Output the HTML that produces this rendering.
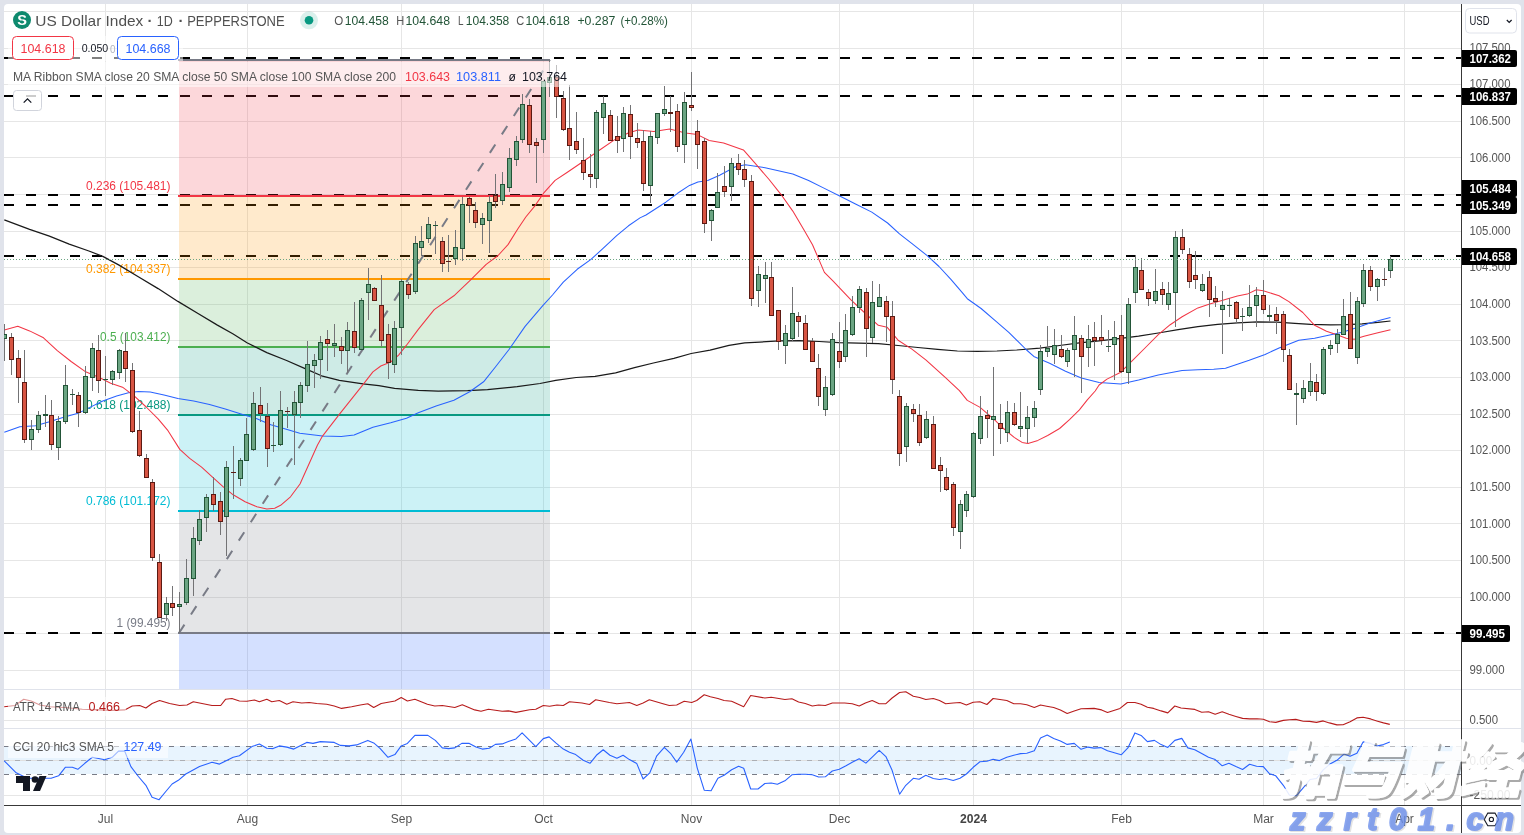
<!DOCTYPE html>
<html lang="en"><head><meta charset="utf-8"><title>US Dollar Index 1D</title>
<style>html,body{margin:0;padding:0;background:#e0e3eb;overflow:hidden}svg{display:block;font-family:"Liberation Sans", Arial, sans-serif}text{white-space:pre}</style>
</head><body>
<svg width="1524" height="835" viewBox="0 0 1524 835">
<rect x="0" y="0" width="1524" height="835" fill="#e0e3eb"/>
<rect x="4" y="4" width="1517" height="829" rx="4" fill="#fff"/>
<g shape-rendering="crispEdges" fill="#e6e6e6">
<rect x="4" y="670" width="1457" height="1"/>
<rect x="4" y="633" width="1457" height="1"/>
<rect x="4" y="597" width="1457" height="1"/>
<rect x="4" y="560" width="1457" height="1"/>
<rect x="4" y="523" width="1457" height="1"/>
<rect x="4" y="487" width="1457" height="1"/>
<rect x="4" y="450" width="1457" height="1"/>
<rect x="4" y="414" width="1457" height="1"/>
<rect x="4" y="377" width="1457" height="1"/>
<rect x="4" y="340" width="1457" height="1"/>
<rect x="4" y="304" width="1457" height="1"/>
<rect x="4" y="267" width="1457" height="1"/>
<rect x="4" y="231" width="1457" height="1"/>
<rect x="4" y="194" width="1457" height="1"/>
<rect x="4" y="157" width="1457" height="1"/>
<rect x="4" y="121" width="1457" height="1"/>
<rect x="4" y="84" width="1457" height="1"/>
<rect x="4" y="48" width="1457" height="1"/>
<rect x="4" y="11" width="1457" height="1"/>
<rect x="105" y="4" width="1" height="801"/>
<rect x="247" y="4" width="1" height="801"/>
<rect x="401" y="4" width="1" height="801"/>
<rect x="543" y="4" width="1" height="801"/>
<rect x="691" y="4" width="1" height="801"/>
<rect x="839" y="4" width="1" height="801"/>
<rect x="973" y="4" width="1" height="801"/>
<rect x="1121" y="4" width="1" height="801"/>
<rect x="1263" y="4" width="1" height="801"/>
<rect x="1404" y="4" width="1" height="801"/>
<rect x="4" y="720" width="1457" height="1"/>
<rect x="4" y="795" width="1457" height="1"/>
</g>
<g shape-rendering="crispEdges" fill="none" stroke="#000" stroke-width="2" stroke-dasharray="10 12">
<line x1="4" y1="58" x2="1461" y2="58"/>
<line x1="4" y1="96" x2="1461" y2="96"/>
<line x1="4" y1="195" x2="1461" y2="195"/>
<line x1="4" y1="205" x2="1461" y2="205"/>
<line x1="4" y1="256" x2="1461" y2="256"/>
<line x1="4" y1="633" x2="1461" y2="633"/>
</g>
<g shape-rendering="crispEdges">
<rect x="179" y="60" width="371" height="136" fill="#f23645" fill-opacity="0.2"/>
<rect x="179" y="196" width="371" height="83" fill="#ff9800" fill-opacity="0.2"/>
<rect x="179" y="279" width="371" height="68" fill="#4caf50" fill-opacity="0.2"/>
<rect x="179" y="347" width="371" height="68" fill="#089981" fill-opacity="0.2"/>
<rect x="179" y="415" width="371" height="96" fill="#00bcd4" fill-opacity="0.2"/>
<rect x="179" y="511" width="371" height="122" fill="#787b86" fill-opacity="0.2"/>
<rect x="179" y="633" width="371" height="56" fill="#2962ff" fill-opacity="0.2"/>
<rect x="178" y="59" width="372" height="2" fill="#787b86"/>
<rect x="178" y="195" width="372" height="2" fill="#f23645"/>
<rect x="178" y="278" width="372" height="2" fill="#ff9800"/>
<rect x="178" y="346" width="372" height="2" fill="#4caf50"/>
<rect x="178" y="414" width="372" height="2" fill="#089981"/>
<rect x="178" y="510" width="372" height="2" fill="#00bcd4"/>
<rect x="178" y="632" width="372" height="2" fill="#787b86"/>
</g>
<line x1="179" y1="633" x2="550" y2="60" stroke="#787b86" stroke-width="2" stroke-dasharray="10 12" fill="none"/>
<text x="170.5" y="189.5" font-size="12" fill="#f23645" text-anchor="end" textLength="84.5" lengthAdjust="spacingAndGlyphs">0.236 (105.481)</text>
<text x="170.5" y="272.5" font-size="12" fill="#ff9800" text-anchor="end" textLength="84.5" lengthAdjust="spacingAndGlyphs">0.382 (104.337)</text>
<text x="170.5" y="340.5" font-size="12" fill="#4caf50" text-anchor="end" textLength="70.5" lengthAdjust="spacingAndGlyphs">0.5 (103.412)</text>
<text x="170.5" y="408.5" font-size="12" fill="#089981" text-anchor="end" textLength="84.5" lengthAdjust="spacingAndGlyphs">0.618 (102.488)</text>
<text x="170.5" y="504.5" font-size="12" fill="#00bcd4" text-anchor="end" textLength="84.5" lengthAdjust="spacingAndGlyphs">0.786 (101.172)</text>
<text x="170.5" y="626.5" font-size="12" fill="#787b86" text-anchor="end" textLength="54" lengthAdjust="spacingAndGlyphs">1 (99.495)</text>
<path d="M4.3 219.8 L29.6 229.3 L49.4 236.2 L69.2 244.1 L88.9 251.0 L102.8 256.4 L118.6 264.9 L138.3 276.7 L158.1 288.6 L177.9 301.4 L197.6 313.3 L217.4 325.1 L233.2 334.0 L247.0 342.7 L266.8 352.6 L286.6 360.5 L305.7 368.9 L321.5 375.8 L339.3 380.4 L363.0 383.8 L378.8 385.7 L394.6 388.3 L418.3 390.3 L438.1 391.1 L467.7 390.7 L487.5 389.7 L517.2 386.7 L540.0 383.5 L555.7 380.3 L576.2 377.5 L595.1 376.4 L615.6 372.8 L634.5 367.7 L653.4 363.0 L673.9 358.3 L691.2 353.5 L710.1 350.1 L729.0 345.4 L744.7 342.8 L759.8 342.1 L779.5 340.8 L799.3 340.6 L819.1 341.5 L838.8 342.7 L858.6 343.1 L878.3 343.7 L898.1 345.5 L917.9 347.5 L937.6 349.4 L957.4 351.0 L977.2 351.4 L996.9 351.0 L1016.7 350.0 L1039.8 348.1 L1059.5 345.5 L1079.3 342.9 L1099.1 340.9 L1118.8 338.6 L1138.6 336.2 L1158.3 333.0 L1178.1 329.7 L1197.9 326.7 L1217.6 324.3 L1237.4 322.8 L1257.2 321.8 L1276.9 322.2 L1294.9 323.4 L1310.7 324.3 L1330.4 324.9 L1346.2 324.7 L1362.1 323.8 L1377.9 322.4 L1390.5 321.0" fill="none" stroke="#1a1a1a" stroke-width="1.25" stroke-linejoin="round"/>
<path d="M4.3 432.3 L19.8 426.7 L35.6 425.7 L49.4 421.8 L65.2 416.8 L79.1 412.9 L88.9 407.9 L102.8 401.0 L116.6 396.1 L128.5 392.7 L138.3 391.5 L150.2 392.1 L164.0 395.1 L177.9 398.5 L193.7 401.0 L209.5 404.6 L225.3 408.9 L241.1 413.9 L256.9 418.8 L270.8 424.7 L284.6 428.7 L299.8 433.2 L322.5 436.1 L341.3 436.5 L354.1 435.1 L372.9 427.2 L390.7 422.7 L406.5 418.3 L418.3 412.8 L436.1 405.9 L453.9 400.2 L469.7 391.7 L483.6 381.8 L495.4 367.0 L509.2 349.2 L525.1 326.4 L542.8 305.7 L552.5 295.0 L563.3 282.2 L577.2 269.3 L591.0 259.4 L602.8 248.6 L616.7 235.7 L628.5 225.8 L640.0 217.9 L646.0 215.0 L665.8 202.2 L677.6 193.3 L689.5 185.4 L697.9 181.9 L707.8 180.5 L719.6 175.2 L735.5 166.7 L745.3 164.7 L765.1 167.7 L792.8 174.0 L808.6 180.5 L824.4 188.4 L840.2 196.3 L856.0 204.2 L871.8 212.1 L887.6 223.0 L899.5 233.9 L913.3 244.7 L927.2 255.6 L939.0 266.5 L950.9 279.3 L962.7 293.2 L967.3 298.7 L981.1 308.5 L994.9 320.4 L1008.8 332.3 L1018.7 342.1 L1026.6 350.0 L1033.8 356.4 L1049.6 363.3 L1065.5 371.2 L1081.3 378.1 L1099.1 382.5 L1120.8 384.0 L1138.6 380.1 L1158.3 375.1 L1182.1 370.6 L1197.9 369.8 L1213.7 369.2 L1225.5 368.2 L1237.4 364.3 L1249.2 360.3 L1265.1 354.4 L1279.1 348.1 L1298.8 340.2 L1314.6 338.2 L1328.5 335.2 L1342.3 332.3 L1358.1 327.3 L1370.0 323.0 L1381.8 319.8 L1390.5 317.4" fill="none" stroke="#2962ff" stroke-width="1.05" stroke-linejoin="round"/>
<path d="M4.3 329.9 L17.8 326.3 L29.6 330.9 L43.5 337.8 L57.3 350.6 L71.1 361.5 L85.0 371.4 L98.8 377.3 L110.7 383.2 L122.5 387.2 L134.4 396.1 L146.2 407.0 L158.1 418.8 L168.0 430.7 L179.8 449.4 L189.7 458.3 L201.6 467.2 L212.5 477.1 L223.3 486.9 L233.2 494.8 L245.1 501.7 L256.9 506.7 L266.8 509.1 L274.7 508.3 L280.6 505.3 L290.5 496.8 L300.0 484.0 L317.5 445.0 L322.5 436.1 L339.3 414.4 L363.0 384.7 L372.9 371.9 L380.8 366.0 L390.7 362.0 L398.6 355.1 L406.5 345.2 L418.3 329.4 L434.2 309.6 L453.9 295.8 L470.4 280.2 L486.2 264.4 L498.1 255.5 L508.0 244.6 L517.9 228.8 L525.8 217.0 L534.7 206.1 L543.6 193.2 L555.1 180.4 L567.0 172.5 L582.8 161.7 L598.6 150.8 L614.4 139.9 L628.2 133.0 L638.1 130.0 L653.9 131.4 L669.7 129.1 L685.5 133.0 L697.4 134.6 L709.2 140.5 L723.6 143.0 L743.4 149.9 L757.2 165.7 L769.1 179.5 L780.9 194.3 L792.8 211.1 L804.6 230.9 L812.5 244.7 L818.5 258.6 L824.4 272.4 L832.9 280.9 L850.7 299.6 L866.5 314.5 L878.3 325.3 L887.2 327.3 L898.1 340.2 L911.9 349.1 L925.8 359.9 L945.5 377.7 L959.4 390.6 L967.3 400.4 L980.1 407.4 L994.9 420.2 L1002.3 427.5 L1014.2 437.4 L1022.1 442.4 L1028.0 443.4 L1037.9 440.4 L1047.7 435.5 L1059.6 428.5 L1069.5 419.6 L1079.4 409.8 L1087.3 399.9 L1095.2 391.0 L1099.1 385.0 L1107.0 379.1 L1120.8 372.2 L1132.6 360.3 L1146.5 346.5 L1158.3 334.6 L1170.2 324.7 L1182.1 316.8 L1197.9 307.9 L1209.7 304.0 L1223.6 300.0 L1237.4 296.1 L1247.3 294.1 L1256.3 289.8 L1263.2 290.8 L1279.1 295.7 L1288.9 301.6 L1302.8 312.5 L1314.6 325.3 L1326.5 331.3 L1338.3 335.2 L1346.2 338.2 L1354.2 339.2 L1364.0 336.2 L1377.9 332.8 L1390.5 329.7" fill="none" stroke="#f23645" stroke-width="1.05" stroke-linejoin="round"/>
<clipPath id="pane"><rect x="4" y="4" width="1457" height="685"/></clipPath>
<g shape-rendering="crispEdges" clip-path="url(#pane)">
<rect x="4" y="324" width="1" height="37" fill="#737375"/>
<rect x="2" y="334" width="5" height="5" fill="#225437"/>
<rect x="3" y="335" width="3" height="3" fill="#6ba583"/>
<rect x="11" y="333" width="1" height="42" fill="#737375"/>
<rect x="9" y="337" width="5" height="23" fill="#5b1a13"/>
<rect x="10" y="338" width="3" height="21" fill="#d75442"/>
<rect x="18" y="350" width="1" height="53" fill="#737375"/>
<rect x="16" y="358" width="5" height="20" fill="#5b1a13"/>
<rect x="17" y="359" width="3" height="18" fill="#d75442"/>
<rect x="24" y="350" width="1" height="93" fill="#737375"/>
<rect x="22" y="382" width="5" height="58" fill="#5b1a13"/>
<rect x="23" y="383" width="3" height="56" fill="#d75442"/>
<rect x="31" y="420" width="1" height="30" fill="#737375"/>
<rect x="29" y="429" width="5" height="11" fill="#225437"/>
<rect x="30" y="430" width="3" height="9" fill="#6ba583"/>
<rect x="38" y="411" width="1" height="22" fill="#737375"/>
<rect x="36" y="415" width="5" height="15" fill="#225437"/>
<rect x="37" y="416" width="3" height="13" fill="#6ba583"/>
<rect x="45" y="395" width="1" height="32" fill="#737375"/>
<rect x="43" y="414" width="5" height="2" fill="#225437"/>
<rect x="51" y="400" width="1" height="50" fill="#737375"/>
<rect x="49" y="415" width="5" height="30" fill="#5b1a13"/>
<rect x="50" y="416" width="3" height="28" fill="#d75442"/>
<rect x="58" y="416" width="1" height="44" fill="#737375"/>
<rect x="56" y="421" width="5" height="27" fill="#225437"/>
<rect x="57" y="422" width="3" height="25" fill="#6ba583"/>
<rect x="65" y="365" width="1" height="59" fill="#737375"/>
<rect x="63" y="385" width="5" height="37" fill="#225437"/>
<rect x="64" y="386" width="3" height="35" fill="#6ba583"/>
<rect x="72" y="389" width="1" height="16" fill="#737375"/>
<rect x="70" y="394" width="5" height="1" fill="#225437"/>
<rect x="78" y="392" width="1" height="35" fill="#737375"/>
<rect x="76" y="395" width="5" height="18" fill="#5b1a13"/>
<rect x="77" y="396" width="3" height="16" fill="#d75442"/>
<rect x="85" y="366" width="1" height="48" fill="#737375"/>
<rect x="83" y="376" width="5" height="37" fill="#225437"/>
<rect x="84" y="377" width="3" height="35" fill="#6ba583"/>
<rect x="92" y="343" width="1" height="48" fill="#737375"/>
<rect x="90" y="348" width="5" height="30" fill="#225437"/>
<rect x="91" y="349" width="3" height="28" fill="#6ba583"/>
<rect x="98" y="335" width="1" height="58" fill="#737375"/>
<rect x="96" y="350" width="5" height="31" fill="#5b1a13"/>
<rect x="97" y="351" width="3" height="29" fill="#d75442"/>
<rect x="105" y="356" width="1" height="40" fill="#737375"/>
<rect x="103" y="379" width="5" height="1" fill="#225437"/>
<rect x="112" y="370" width="1" height="15" fill="#737375"/>
<rect x="110" y="371" width="5" height="9" fill="#225437"/>
<rect x="111" y="372" width="3" height="7" fill="#6ba583"/>
<rect x="119" y="349" width="1" height="30" fill="#737375"/>
<rect x="117" y="350" width="5" height="23" fill="#225437"/>
<rect x="118" y="351" width="3" height="21" fill="#6ba583"/>
<rect x="125" y="333" width="1" height="49" fill="#737375"/>
<rect x="123" y="351" width="5" height="18" fill="#5b1a13"/>
<rect x="124" y="352" width="3" height="16" fill="#d75442"/>
<rect x="132" y="363" width="1" height="70" fill="#737375"/>
<rect x="130" y="370" width="5" height="62" fill="#5b1a13"/>
<rect x="131" y="371" width="3" height="60" fill="#d75442"/>
<rect x="139" y="411" width="1" height="46" fill="#737375"/>
<rect x="137" y="430" width="5" height="26" fill="#5b1a13"/>
<rect x="138" y="431" width="3" height="24" fill="#d75442"/>
<rect x="146" y="454" width="1" height="24" fill="#737375"/>
<rect x="144" y="458" width="5" height="20" fill="#5b1a13"/>
<rect x="145" y="459" width="3" height="18" fill="#d75442"/>
<rect x="152" y="479" width="1" height="82" fill="#737375"/>
<rect x="150" y="482" width="5" height="76" fill="#5b1a13"/>
<rect x="151" y="483" width="3" height="74" fill="#d75442"/>
<rect x="159" y="554" width="1" height="64" fill="#737375"/>
<rect x="157" y="562" width="5" height="56" fill="#5b1a13"/>
<rect x="158" y="563" width="3" height="54" fill="#d75442"/>
<rect x="166" y="597" width="1" height="24" fill="#737375"/>
<rect x="164" y="603" width="5" height="12" fill="#225437"/>
<rect x="165" y="604" width="3" height="10" fill="#6ba583"/>
<rect x="172" y="586" width="1" height="30" fill="#737375"/>
<rect x="170" y="603" width="5" height="5" fill="#5b1a13"/>
<rect x="171" y="604" width="3" height="3" fill="#d75442"/>
<rect x="179" y="592" width="1" height="41" fill="#737375"/>
<rect x="177" y="604" width="5" height="3" fill="#225437"/>
<rect x="178" y="605" width="3" height="1" fill="#6ba583"/>
<rect x="186" y="559" width="1" height="46" fill="#737375"/>
<rect x="184" y="578" width="5" height="25" fill="#225437"/>
<rect x="185" y="579" width="3" height="23" fill="#6ba583"/>
<rect x="193" y="527" width="1" height="69" fill="#737375"/>
<rect x="191" y="538" width="5" height="41" fill="#225437"/>
<rect x="192" y="539" width="3" height="39" fill="#6ba583"/>
<rect x="199" y="510" width="1" height="35" fill="#737375"/>
<rect x="197" y="519" width="5" height="22" fill="#225437"/>
<rect x="198" y="520" width="3" height="20" fill="#6ba583"/>
<rect x="206" y="494" width="1" height="38" fill="#737375"/>
<rect x="204" y="497" width="5" height="21" fill="#225437"/>
<rect x="205" y="498" width="3" height="19" fill="#6ba583"/>
<rect x="213" y="477" width="1" height="34" fill="#737375"/>
<rect x="211" y="494" width="5" height="11" fill="#5b1a13"/>
<rect x="212" y="495" width="3" height="9" fill="#d75442"/>
<rect x="220" y="492" width="1" height="43" fill="#737375"/>
<rect x="218" y="501" width="5" height="21" fill="#5b1a13"/>
<rect x="219" y="502" width="3" height="19" fill="#d75442"/>
<rect x="226" y="461" width="1" height="95" fill="#737375"/>
<rect x="224" y="467" width="5" height="50" fill="#225437"/>
<rect x="225" y="468" width="3" height="48" fill="#6ba583"/>
<rect x="233" y="446" width="1" height="53" fill="#737375"/>
<rect x="231" y="472" width="5" height="1" fill="#5b1a13"/>
<rect x="240" y="458" width="1" height="28" fill="#737375"/>
<rect x="238" y="460" width="5" height="19" fill="#225437"/>
<rect x="239" y="461" width="3" height="17" fill="#6ba583"/>
<rect x="246" y="418" width="1" height="43" fill="#737375"/>
<rect x="244" y="434" width="5" height="27" fill="#225437"/>
<rect x="245" y="435" width="3" height="25" fill="#6ba583"/>
<rect x="253" y="392" width="1" height="59" fill="#737375"/>
<rect x="251" y="403" width="5" height="47" fill="#225437"/>
<rect x="252" y="404" width="3" height="45" fill="#6ba583"/>
<rect x="260" y="387" width="1" height="35" fill="#737375"/>
<rect x="258" y="405" width="5" height="9" fill="#5b1a13"/>
<rect x="259" y="406" width="3" height="7" fill="#d75442"/>
<rect x="267" y="403" width="1" height="64" fill="#737375"/>
<rect x="265" y="416" width="5" height="33" fill="#5b1a13"/>
<rect x="266" y="417" width="3" height="31" fill="#d75442"/>
<rect x="273" y="422" width="1" height="30" fill="#737375"/>
<rect x="271" y="445" width="5" height="1" fill="#225437"/>
<rect x="280" y="391" width="1" height="55" fill="#737375"/>
<rect x="278" y="410" width="5" height="35" fill="#225437"/>
<rect x="279" y="411" width="3" height="33" fill="#6ba583"/>
<rect x="287" y="407" width="1" height="21" fill="#737375"/>
<rect x="285" y="411" width="5" height="1" fill="#5b1a13"/>
<rect x="294" y="391" width="1" height="74" fill="#737375"/>
<rect x="292" y="402" width="5" height="13" fill="#225437"/>
<rect x="293" y="403" width="3" height="11" fill="#6ba583"/>
<rect x="300" y="382" width="1" height="36" fill="#737375"/>
<rect x="298" y="385" width="5" height="18" fill="#225437"/>
<rect x="299" y="386" width="3" height="16" fill="#6ba583"/>
<rect x="307" y="341" width="1" height="51" fill="#737375"/>
<rect x="305" y="364" width="5" height="22" fill="#225437"/>
<rect x="306" y="365" width="3" height="20" fill="#6ba583"/>
<rect x="314" y="354" width="1" height="34" fill="#737375"/>
<rect x="312" y="360" width="5" height="6" fill="#225437"/>
<rect x="313" y="361" width="3" height="4" fill="#6ba583"/>
<rect x="320" y="336" width="1" height="43" fill="#737375"/>
<rect x="318" y="342" width="5" height="18" fill="#225437"/>
<rect x="319" y="343" width="3" height="16" fill="#6ba583"/>
<rect x="327" y="330" width="1" height="41" fill="#737375"/>
<rect x="325" y="339" width="5" height="5" fill="#5b1a13"/>
<rect x="326" y="340" width="3" height="3" fill="#d75442"/>
<rect x="334" y="324" width="1" height="33" fill="#737375"/>
<rect x="332" y="343" width="5" height="3" fill="#225437"/>
<rect x="333" y="344" width="3" height="1" fill="#6ba583"/>
<rect x="341" y="337" width="1" height="27" fill="#737375"/>
<rect x="339" y="346" width="5" height="5" fill="#5b1a13"/>
<rect x="340" y="347" width="3" height="3" fill="#d75442"/>
<rect x="347" y="322" width="1" height="51" fill="#737375"/>
<rect x="345" y="330" width="5" height="21" fill="#225437"/>
<rect x="346" y="331" width="3" height="19" fill="#6ba583"/>
<rect x="354" y="302" width="1" height="51" fill="#737375"/>
<rect x="352" y="331" width="5" height="17" fill="#5b1a13"/>
<rect x="353" y="332" width="3" height="15" fill="#d75442"/>
<rect x="361" y="298" width="1" height="52" fill="#737375"/>
<rect x="359" y="300" width="5" height="50" fill="#225437"/>
<rect x="360" y="301" width="3" height="48" fill="#6ba583"/>
<rect x="368" y="268" width="1" height="52" fill="#737375"/>
<rect x="366" y="284" width="5" height="9" fill="#225437"/>
<rect x="367" y="285" width="3" height="7" fill="#6ba583"/>
<rect x="374" y="287" width="1" height="14" fill="#737375"/>
<rect x="372" y="288" width="5" height="13" fill="#5b1a13"/>
<rect x="373" y="289" width="3" height="11" fill="#d75442"/>
<rect x="381" y="275" width="1" height="72" fill="#737375"/>
<rect x="379" y="305" width="5" height="36" fill="#5b1a13"/>
<rect x="380" y="306" width="3" height="34" fill="#d75442"/>
<rect x="388" y="324" width="1" height="55" fill="#737375"/>
<rect x="386" y="334" width="5" height="29" fill="#5b1a13"/>
<rect x="387" y="335" width="3" height="27" fill="#d75442"/>
<rect x="394" y="321" width="1" height="52" fill="#737375"/>
<rect x="392" y="328" width="5" height="37" fill="#225437"/>
<rect x="393" y="329" width="3" height="35" fill="#6ba583"/>
<rect x="401" y="279" width="1" height="76" fill="#737375"/>
<rect x="399" y="281" width="5" height="47" fill="#225437"/>
<rect x="400" y="282" width="3" height="45" fill="#6ba583"/>
<rect x="408" y="282" width="1" height="17" fill="#737375"/>
<rect x="406" y="284" width="5" height="11" fill="#5b1a13"/>
<rect x="407" y="285" width="3" height="9" fill="#d75442"/>
<rect x="415" y="236" width="1" height="58" fill="#737375"/>
<rect x="413" y="243" width="5" height="49" fill="#225437"/>
<rect x="414" y="244" width="3" height="47" fill="#6ba583"/>
<rect x="421" y="226" width="1" height="30" fill="#737375"/>
<rect x="419" y="241" width="5" height="7" fill="#225437"/>
<rect x="420" y="242" width="3" height="5" fill="#6ba583"/>
<rect x="428" y="217" width="1" height="26" fill="#737375"/>
<rect x="426" y="224" width="5" height="15" fill="#225437"/>
<rect x="427" y="225" width="3" height="13" fill="#6ba583"/>
<rect x="435" y="221" width="1" height="33" fill="#737375"/>
<rect x="433" y="225" width="5" height="1" fill="#225437"/>
<rect x="442" y="237" width="1" height="35" fill="#737375"/>
<rect x="440" y="241" width="5" height="23" fill="#5b1a13"/>
<rect x="441" y="242" width="3" height="21" fill="#d75442"/>
<rect x="448" y="235" width="1" height="37" fill="#737375"/>
<rect x="446" y="261" width="5" height="1" fill="#5b1a13"/>
<rect x="455" y="230" width="1" height="35" fill="#737375"/>
<rect x="453" y="247" width="5" height="12" fill="#225437"/>
<rect x="454" y="248" width="3" height="10" fill="#6ba583"/>
<rect x="462" y="197" width="1" height="64" fill="#737375"/>
<rect x="460" y="204" width="5" height="45" fill="#225437"/>
<rect x="461" y="205" width="3" height="43" fill="#6ba583"/>
<rect x="469" y="197" width="1" height="26" fill="#737375"/>
<rect x="467" y="198" width="5" height="8" fill="#5b1a13"/>
<rect x="468" y="199" width="3" height="6" fill="#d75442"/>
<rect x="475" y="202" width="1" height="26" fill="#737375"/>
<rect x="473" y="210" width="5" height="13" fill="#5b1a13"/>
<rect x="474" y="211" width="3" height="11" fill="#d75442"/>
<rect x="482" y="213" width="1" height="31" fill="#737375"/>
<rect x="480" y="218" width="5" height="7" fill="#225437"/>
<rect x="481" y="219" width="3" height="5" fill="#6ba583"/>
<rect x="489" y="196" width="1" height="57" fill="#737375"/>
<rect x="487" y="202" width="5" height="19" fill="#225437"/>
<rect x="488" y="203" width="3" height="17" fill="#6ba583"/>
<rect x="495" y="174" width="1" height="34" fill="#737375"/>
<rect x="493" y="195" width="5" height="7" fill="#5b1a13"/>
<rect x="494" y="196" width="3" height="5" fill="#d75442"/>
<rect x="502" y="172" width="1" height="33" fill="#737375"/>
<rect x="500" y="184" width="5" height="17" fill="#225437"/>
<rect x="501" y="185" width="3" height="15" fill="#6ba583"/>
<rect x="509" y="148" width="1" height="44" fill="#737375"/>
<rect x="507" y="158" width="5" height="30" fill="#225437"/>
<rect x="508" y="159" width="3" height="28" fill="#6ba583"/>
<rect x="516" y="136" width="1" height="30" fill="#737375"/>
<rect x="514" y="141" width="5" height="19" fill="#225437"/>
<rect x="515" y="142" width="3" height="17" fill="#6ba583"/>
<rect x="522" y="94" width="1" height="49" fill="#737375"/>
<rect x="520" y="104" width="5" height="36" fill="#225437"/>
<rect x="521" y="105" width="3" height="34" fill="#6ba583"/>
<rect x="529" y="99" width="1" height="54" fill="#737375"/>
<rect x="527" y="105" width="5" height="40" fill="#5b1a13"/>
<rect x="528" y="106" width="3" height="38" fill="#d75442"/>
<rect x="536" y="138" width="1" height="45" fill="#737375"/>
<rect x="534" y="142" width="5" height="4" fill="#5b1a13"/>
<rect x="535" y="143" width="3" height="2" fill="#d75442"/>
<rect x="543" y="81" width="1" height="72" fill="#737375"/>
<rect x="541" y="81" width="5" height="59" fill="#225437"/>
<rect x="542" y="82" width="3" height="57" fill="#6ba583"/>
<rect x="549" y="60" width="1" height="37" fill="#737375"/>
<rect x="547" y="77" width="5" height="6" fill="#225437"/>
<rect x="548" y="78" width="3" height="4" fill="#6ba583"/>
<rect x="556" y="65" width="1" height="53" fill="#737375"/>
<rect x="554" y="77" width="5" height="20" fill="#5b1a13"/>
<rect x="555" y="78" width="3" height="18" fill="#d75442"/>
<rect x="563" y="91" width="1" height="40" fill="#737375"/>
<rect x="561" y="98" width="5" height="32" fill="#5b1a13"/>
<rect x="562" y="99" width="3" height="30" fill="#d75442"/>
<rect x="569" y="85" width="1" height="75" fill="#737375"/>
<rect x="567" y="128" width="5" height="18" fill="#5b1a13"/>
<rect x="568" y="129" width="3" height="16" fill="#d75442"/>
<rect x="576" y="112" width="1" height="42" fill="#737375"/>
<rect x="574" y="141" width="5" height="9" fill="#5b1a13"/>
<rect x="575" y="142" width="3" height="7" fill="#d75442"/>
<rect x="583" y="138" width="1" height="42" fill="#737375"/>
<rect x="581" y="160" width="5" height="13" fill="#5b1a13"/>
<rect x="582" y="161" width="3" height="11" fill="#d75442"/>
<rect x="590" y="154" width="1" height="34" fill="#737375"/>
<rect x="588" y="174" width="5" height="3" fill="#5b1a13"/>
<rect x="589" y="175" width="3" height="1" fill="#d75442"/>
<rect x="596" y="110" width="1" height="78" fill="#737375"/>
<rect x="594" y="112" width="5" height="67" fill="#225437"/>
<rect x="595" y="113" width="3" height="65" fill="#6ba583"/>
<rect x="603" y="96" width="1" height="38" fill="#737375"/>
<rect x="601" y="103" width="5" height="15" fill="#225437"/>
<rect x="602" y="104" width="3" height="13" fill="#6ba583"/>
<rect x="610" y="110" width="1" height="31" fill="#737375"/>
<rect x="608" y="115" width="5" height="26" fill="#5b1a13"/>
<rect x="609" y="116" width="3" height="24" fill="#d75442"/>
<rect x="617" y="116" width="1" height="37" fill="#737375"/>
<rect x="615" y="136" width="5" height="5" fill="#5b1a13"/>
<rect x="616" y="137" width="3" height="3" fill="#d75442"/>
<rect x="623" y="107" width="1" height="45" fill="#737375"/>
<rect x="621" y="113" width="5" height="26" fill="#225437"/>
<rect x="622" y="114" width="3" height="24" fill="#6ba583"/>
<rect x="630" y="105" width="1" height="54" fill="#737375"/>
<rect x="628" y="114" width="5" height="23" fill="#5b1a13"/>
<rect x="629" y="115" width="3" height="21" fill="#d75442"/>
<rect x="637" y="123" width="1" height="25" fill="#737375"/>
<rect x="635" y="138" width="5" height="5" fill="#5b1a13"/>
<rect x="636" y="139" width="3" height="3" fill="#d75442"/>
<rect x="643" y="130" width="1" height="61" fill="#737375"/>
<rect x="641" y="141" width="5" height="43" fill="#5b1a13"/>
<rect x="642" y="142" width="3" height="41" fill="#d75442"/>
<rect x="650" y="131" width="1" height="72" fill="#737375"/>
<rect x="648" y="136" width="5" height="50" fill="#225437"/>
<rect x="649" y="137" width="3" height="48" fill="#6ba583"/>
<rect x="657" y="113" width="1" height="31" fill="#737375"/>
<rect x="655" y="113" width="5" height="25" fill="#225437"/>
<rect x="656" y="114" width="3" height="23" fill="#6ba583"/>
<rect x="664" y="86" width="1" height="30" fill="#737375"/>
<rect x="662" y="109" width="5" height="5" fill="#225437"/>
<rect x="663" y="110" width="3" height="3" fill="#6ba583"/>
<rect x="670" y="96" width="1" height="36" fill="#737375"/>
<rect x="668" y="112" width="5" height="2" fill="#5b1a13"/>
<rect x="677" y="104" width="1" height="48" fill="#737375"/>
<rect x="675" y="111" width="5" height="36" fill="#5b1a13"/>
<rect x="676" y="112" width="3" height="34" fill="#d75442"/>
<rect x="684" y="92" width="1" height="71" fill="#737375"/>
<rect x="682" y="102" width="5" height="43" fill="#225437"/>
<rect x="683" y="103" width="3" height="41" fill="#6ba583"/>
<rect x="691" y="72" width="1" height="39" fill="#737375"/>
<rect x="689" y="105" width="5" height="3" fill="#5b1a13"/>
<rect x="690" y="106" width="3" height="1" fill="#d75442"/>
<rect x="697" y="120" width="1" height="49" fill="#737375"/>
<rect x="695" y="131" width="5" height="14" fill="#5b1a13"/>
<rect x="696" y="132" width="3" height="12" fill="#d75442"/>
<rect x="704" y="138" width="1" height="95" fill="#737375"/>
<rect x="702" y="141" width="5" height="83" fill="#5b1a13"/>
<rect x="703" y="142" width="3" height="81" fill="#d75442"/>
<rect x="711" y="209" width="1" height="32" fill="#737375"/>
<rect x="709" y="210" width="5" height="11" fill="#225437"/>
<rect x="710" y="211" width="3" height="9" fill="#6ba583"/>
<rect x="717" y="173" width="1" height="35" fill="#737375"/>
<rect x="715" y="192" width="5" height="16" fill="#225437"/>
<rect x="716" y="193" width="3" height="14" fill="#6ba583"/>
<rect x="724" y="166" width="1" height="31" fill="#737375"/>
<rect x="722" y="186" width="5" height="6" fill="#5b1a13"/>
<rect x="723" y="187" width="3" height="4" fill="#d75442"/>
<rect x="731" y="158" width="1" height="43" fill="#737375"/>
<rect x="729" y="163" width="5" height="24" fill="#225437"/>
<rect x="730" y="164" width="3" height="22" fill="#6ba583"/>
<rect x="738" y="154" width="1" height="21" fill="#737375"/>
<rect x="736" y="163" width="5" height="7" fill="#5b1a13"/>
<rect x="737" y="164" width="3" height="5" fill="#d75442"/>
<rect x="744" y="160" width="1" height="27" fill="#737375"/>
<rect x="742" y="169" width="5" height="11" fill="#5b1a13"/>
<rect x="743" y="170" width="3" height="9" fill="#d75442"/>
<rect x="751" y="175" width="1" height="131" fill="#737375"/>
<rect x="749" y="181" width="5" height="118" fill="#5b1a13"/>
<rect x="750" y="182" width="3" height="116" fill="#d75442"/>
<rect x="758" y="266" width="1" height="41" fill="#737375"/>
<rect x="756" y="274" width="5" height="17" fill="#225437"/>
<rect x="757" y="275" width="3" height="15" fill="#6ba583"/>
<rect x="765" y="262" width="1" height="41" fill="#737375"/>
<rect x="763" y="275" width="5" height="4" fill="#225437"/>
<rect x="764" y="276" width="3" height="2" fill="#6ba583"/>
<rect x="771" y="262" width="1" height="54" fill="#737375"/>
<rect x="769" y="277" width="5" height="39" fill="#5b1a13"/>
<rect x="770" y="278" width="3" height="37" fill="#d75442"/>
<rect x="778" y="310" width="1" height="40" fill="#737375"/>
<rect x="776" y="310" width="5" height="32" fill="#5b1a13"/>
<rect x="777" y="311" width="3" height="30" fill="#d75442"/>
<rect x="785" y="325" width="1" height="39" fill="#737375"/>
<rect x="783" y="333" width="5" height="13" fill="#225437"/>
<rect x="784" y="334" width="3" height="11" fill="#6ba583"/>
<rect x="792" y="287" width="1" height="54" fill="#737375"/>
<rect x="790" y="313" width="5" height="26" fill="#225437"/>
<rect x="791" y="314" width="3" height="24" fill="#6ba583"/>
<rect x="798" y="312" width="1" height="25" fill="#737375"/>
<rect x="796" y="316" width="5" height="6" fill="#5b1a13"/>
<rect x="797" y="317" width="3" height="4" fill="#d75442"/>
<rect x="805" y="315" width="1" height="35" fill="#737375"/>
<rect x="803" y="323" width="5" height="27" fill="#5b1a13"/>
<rect x="804" y="324" width="3" height="25" fill="#d75442"/>
<rect x="812" y="338" width="1" height="24" fill="#737375"/>
<rect x="810" y="341" width="5" height="21" fill="#5b1a13"/>
<rect x="811" y="342" width="3" height="19" fill="#d75442"/>
<rect x="818" y="354" width="1" height="52" fill="#737375"/>
<rect x="816" y="368" width="5" height="29" fill="#5b1a13"/>
<rect x="817" y="369" width="3" height="27" fill="#d75442"/>
<rect x="825" y="376" width="1" height="40" fill="#737375"/>
<rect x="823" y="387" width="5" height="23" fill="#225437"/>
<rect x="824" y="388" width="3" height="21" fill="#6ba583"/>
<rect x="832" y="333" width="1" height="63" fill="#737375"/>
<rect x="830" y="339" width="5" height="56" fill="#225437"/>
<rect x="831" y="340" width="3" height="54" fill="#6ba583"/>
<rect x="839" y="322" width="1" height="46" fill="#737375"/>
<rect x="837" y="351" width="5" height="11" fill="#5b1a13"/>
<rect x="838" y="352" width="3" height="9" fill="#d75442"/>
<rect x="845" y="314" width="1" height="48" fill="#737375"/>
<rect x="843" y="330" width="5" height="27" fill="#225437"/>
<rect x="844" y="331" width="3" height="25" fill="#6ba583"/>
<rect x="852" y="296" width="1" height="40" fill="#737375"/>
<rect x="850" y="307" width="5" height="28" fill="#225437"/>
<rect x="851" y="308" width="3" height="26" fill="#6ba583"/>
<rect x="859" y="286" width="1" height="27" fill="#737375"/>
<rect x="857" y="289" width="5" height="19" fill="#225437"/>
<rect x="858" y="290" width="3" height="17" fill="#6ba583"/>
<rect x="866" y="288" width="1" height="69" fill="#737375"/>
<rect x="864" y="292" width="5" height="37" fill="#5b1a13"/>
<rect x="865" y="293" width="3" height="35" fill="#d75442"/>
<rect x="872" y="281" width="1" height="62" fill="#737375"/>
<rect x="870" y="302" width="5" height="36" fill="#225437"/>
<rect x="871" y="303" width="3" height="34" fill="#6ba583"/>
<rect x="879" y="284" width="1" height="23" fill="#737375"/>
<rect x="877" y="297" width="5" height="10" fill="#225437"/>
<rect x="878" y="298" width="3" height="8" fill="#6ba583"/>
<rect x="886" y="296" width="1" height="46" fill="#737375"/>
<rect x="884" y="301" width="5" height="16" fill="#5b1a13"/>
<rect x="885" y="302" width="3" height="14" fill="#d75442"/>
<rect x="892" y="301" width="1" height="93" fill="#737375"/>
<rect x="890" y="316" width="5" height="64" fill="#5b1a13"/>
<rect x="891" y="317" width="3" height="62" fill="#d75442"/>
<rect x="899" y="390" width="1" height="76" fill="#737375"/>
<rect x="897" y="396" width="5" height="58" fill="#5b1a13"/>
<rect x="898" y="397" width="3" height="56" fill="#d75442"/>
<rect x="906" y="403" width="1" height="59" fill="#737375"/>
<rect x="904" y="406" width="5" height="41" fill="#225437"/>
<rect x="905" y="407" width="3" height="39" fill="#6ba583"/>
<rect x="913" y="404" width="1" height="18" fill="#737375"/>
<rect x="911" y="409" width="5" height="5" fill="#5b1a13"/>
<rect x="912" y="410" width="3" height="3" fill="#d75442"/>
<rect x="919" y="404" width="1" height="42" fill="#737375"/>
<rect x="917" y="415" width="5" height="28" fill="#5b1a13"/>
<rect x="918" y="416" width="3" height="26" fill="#d75442"/>
<rect x="926" y="411" width="1" height="28" fill="#737375"/>
<rect x="924" y="419" width="5" height="19" fill="#225437"/>
<rect x="925" y="420" width="3" height="17" fill="#6ba583"/>
<rect x="933" y="416" width="1" height="53" fill="#737375"/>
<rect x="931" y="424" width="5" height="45" fill="#5b1a13"/>
<rect x="932" y="425" width="3" height="43" fill="#d75442"/>
<rect x="940" y="457" width="1" height="35" fill="#737375"/>
<rect x="938" y="465" width="5" height="6" fill="#5b1a13"/>
<rect x="939" y="466" width="3" height="4" fill="#d75442"/>
<rect x="946" y="468" width="1" height="23" fill="#737375"/>
<rect x="944" y="477" width="5" height="13" fill="#5b1a13"/>
<rect x="945" y="478" width="3" height="11" fill="#d75442"/>
<rect x="953" y="482" width="1" height="54" fill="#737375"/>
<rect x="951" y="484" width="5" height="44" fill="#5b1a13"/>
<rect x="952" y="485" width="3" height="42" fill="#d75442"/>
<rect x="960" y="500" width="1" height="49" fill="#737375"/>
<rect x="958" y="504" width="5" height="28" fill="#225437"/>
<rect x="959" y="505" width="3" height="26" fill="#6ba583"/>
<rect x="966" y="491" width="1" height="26" fill="#737375"/>
<rect x="964" y="494" width="5" height="17" fill="#225437"/>
<rect x="965" y="495" width="3" height="15" fill="#6ba583"/>
<rect x="973" y="432" width="1" height="66" fill="#737375"/>
<rect x="971" y="433" width="5" height="64" fill="#225437"/>
<rect x="972" y="434" width="3" height="62" fill="#6ba583"/>
<rect x="980" y="396" width="1" height="48" fill="#737375"/>
<rect x="978" y="416" width="5" height="23" fill="#225437"/>
<rect x="979" y="417" width="3" height="21" fill="#6ba583"/>
<rect x="987" y="410" width="1" height="28" fill="#737375"/>
<rect x="985" y="415" width="5" height="4" fill="#5b1a13"/>
<rect x="986" y="416" width="3" height="2" fill="#d75442"/>
<rect x="993" y="367" width="1" height="89" fill="#737375"/>
<rect x="991" y="416" width="5" height="4" fill="#225437"/>
<rect x="992" y="417" width="3" height="2" fill="#6ba583"/>
<rect x="1000" y="404" width="1" height="40" fill="#737375"/>
<rect x="998" y="423" width="5" height="6" fill="#5b1a13"/>
<rect x="999" y="424" width="3" height="4" fill="#d75442"/>
<rect x="1007" y="401" width="1" height="41" fill="#737375"/>
<rect x="1005" y="412" width="5" height="21" fill="#225437"/>
<rect x="1006" y="413" width="3" height="19" fill="#6ba583"/>
<rect x="1014" y="403" width="1" height="23" fill="#737375"/>
<rect x="1012" y="412" width="5" height="13" fill="#5b1a13"/>
<rect x="1013" y="413" width="3" height="11" fill="#d75442"/>
<rect x="1020" y="392" width="1" height="45" fill="#737375"/>
<rect x="1018" y="426" width="5" height="3" fill="#225437"/>
<rect x="1019" y="427" width="3" height="1" fill="#6ba583"/>
<rect x="1027" y="406" width="1" height="37" fill="#737375"/>
<rect x="1025" y="417" width="5" height="12" fill="#225437"/>
<rect x="1026" y="418" width="3" height="10" fill="#6ba583"/>
<rect x="1034" y="401" width="1" height="26" fill="#737375"/>
<rect x="1032" y="408" width="5" height="10" fill="#225437"/>
<rect x="1033" y="409" width="3" height="8" fill="#6ba583"/>
<rect x="1040" y="345" width="1" height="50" fill="#737375"/>
<rect x="1038" y="351" width="5" height="39" fill="#225437"/>
<rect x="1039" y="352" width="3" height="37" fill="#6ba583"/>
<rect x="1047" y="326" width="1" height="31" fill="#737375"/>
<rect x="1045" y="348" width="5" height="4" fill="#225437"/>
<rect x="1046" y="349" width="3" height="2" fill="#6ba583"/>
<rect x="1054" y="329" width="1" height="35" fill="#737375"/>
<rect x="1052" y="345" width="5" height="10" fill="#225437"/>
<rect x="1053" y="346" width="3" height="8" fill="#6ba583"/>
<rect x="1061" y="335" width="1" height="23" fill="#737375"/>
<rect x="1059" y="349" width="5" height="8" fill="#5b1a13"/>
<rect x="1060" y="350" width="3" height="6" fill="#d75442"/>
<rect x="1067" y="348" width="1" height="19" fill="#737375"/>
<rect x="1065" y="350" width="5" height="12" fill="#225437"/>
<rect x="1066" y="351" width="3" height="10" fill="#6ba583"/>
<rect x="1074" y="316" width="1" height="61" fill="#737375"/>
<rect x="1072" y="335" width="5" height="15" fill="#225437"/>
<rect x="1073" y="336" width="3" height="13" fill="#6ba583"/>
<rect x="1081" y="335" width="1" height="58" fill="#737375"/>
<rect x="1079" y="338" width="5" height="19" fill="#5b1a13"/>
<rect x="1080" y="339" width="3" height="17" fill="#d75442"/>
<rect x="1088" y="325" width="1" height="42" fill="#737375"/>
<rect x="1086" y="339" width="5" height="9" fill="#225437"/>
<rect x="1087" y="340" width="3" height="7" fill="#6ba583"/>
<rect x="1094" y="322" width="1" height="44" fill="#737375"/>
<rect x="1092" y="337" width="5" height="4" fill="#5b1a13"/>
<rect x="1093" y="338" width="3" height="2" fill="#d75442"/>
<rect x="1101" y="315" width="1" height="30" fill="#737375"/>
<rect x="1099" y="337" width="5" height="4" fill="#5b1a13"/>
<rect x="1100" y="338" width="3" height="2" fill="#d75442"/>
<rect x="1108" y="330" width="1" height="22" fill="#737375"/>
<rect x="1106" y="346" width="5" height="1" fill="#225437"/>
<rect x="1114" y="321" width="1" height="59" fill="#737375"/>
<rect x="1112" y="337" width="5" height="8" fill="#225437"/>
<rect x="1113" y="338" width="3" height="6" fill="#6ba583"/>
<rect x="1121" y="315" width="1" height="58" fill="#737375"/>
<rect x="1119" y="335" width="5" height="37" fill="#5b1a13"/>
<rect x="1120" y="336" width="3" height="35" fill="#d75442"/>
<rect x="1128" y="298" width="1" height="86" fill="#737375"/>
<rect x="1126" y="304" width="5" height="69" fill="#225437"/>
<rect x="1127" y="305" width="3" height="67" fill="#6ba583"/>
<rect x="1135" y="255" width="1" height="48" fill="#737375"/>
<rect x="1133" y="267" width="5" height="26" fill="#225437"/>
<rect x="1134" y="268" width="3" height="24" fill="#6ba583"/>
<rect x="1141" y="258" width="1" height="32" fill="#737375"/>
<rect x="1139" y="270" width="5" height="20" fill="#5b1a13"/>
<rect x="1140" y="271" width="3" height="18" fill="#d75442"/>
<rect x="1148" y="289" width="1" height="17" fill="#737375"/>
<rect x="1146" y="292" width="5" height="7" fill="#5b1a13"/>
<rect x="1147" y="293" width="3" height="5" fill="#d75442"/>
<rect x="1155" y="269" width="1" height="35" fill="#737375"/>
<rect x="1153" y="291" width="5" height="10" fill="#225437"/>
<rect x="1154" y="292" width="3" height="8" fill="#6ba583"/>
<rect x="1162" y="282" width="1" height="23" fill="#737375"/>
<rect x="1160" y="289" width="5" height="6" fill="#5b1a13"/>
<rect x="1161" y="290" width="3" height="4" fill="#d75442"/>
<rect x="1168" y="282" width="1" height="28" fill="#737375"/>
<rect x="1166" y="293" width="5" height="12" fill="#225437"/>
<rect x="1167" y="294" width="3" height="10" fill="#6ba583"/>
<rect x="1175" y="231" width="1" height="96" fill="#737375"/>
<rect x="1173" y="237" width="5" height="56" fill="#225437"/>
<rect x="1174" y="238" width="3" height="54" fill="#6ba583"/>
<rect x="1182" y="229" width="1" height="25" fill="#737375"/>
<rect x="1180" y="237" width="5" height="13" fill="#5b1a13"/>
<rect x="1181" y="238" width="3" height="11" fill="#d75442"/>
<rect x="1189" y="248" width="1" height="40" fill="#737375"/>
<rect x="1187" y="254" width="5" height="28" fill="#5b1a13"/>
<rect x="1188" y="255" width="3" height="26" fill="#d75442"/>
<rect x="1195" y="251" width="1" height="38" fill="#737375"/>
<rect x="1193" y="275" width="5" height="5" fill="#5b1a13"/>
<rect x="1194" y="276" width="3" height="3" fill="#d75442"/>
<rect x="1202" y="274" width="1" height="18" fill="#737375"/>
<rect x="1200" y="284" width="5" height="7" fill="#225437"/>
<rect x="1201" y="285" width="3" height="5" fill="#6ba583"/>
<rect x="1209" y="271" width="1" height="46" fill="#737375"/>
<rect x="1207" y="277" width="5" height="23" fill="#5b1a13"/>
<rect x="1208" y="278" width="3" height="21" fill="#d75442"/>
<rect x="1215" y="286" width="1" height="21" fill="#737375"/>
<rect x="1213" y="298" width="5" height="4" fill="#5b1a13"/>
<rect x="1214" y="299" width="3" height="2" fill="#d75442"/>
<rect x="1222" y="291" width="1" height="63" fill="#737375"/>
<rect x="1220" y="305" width="5" height="5" fill="#225437"/>
<rect x="1221" y="306" width="3" height="3" fill="#6ba583"/>
<rect x="1229" y="298" width="1" height="19" fill="#737375"/>
<rect x="1227" y="305" width="5" height="1" fill="#225437"/>
<rect x="1236" y="301" width="1" height="22" fill="#737375"/>
<rect x="1234" y="302" width="5" height="17" fill="#5b1a13"/>
<rect x="1235" y="303" width="3" height="15" fill="#d75442"/>
<rect x="1242" y="308" width="1" height="23" fill="#737375"/>
<rect x="1240" y="316" width="5" height="1" fill="#225437"/>
<rect x="1249" y="285" width="1" height="32" fill="#737375"/>
<rect x="1247" y="307" width="5" height="9" fill="#225437"/>
<rect x="1248" y="308" width="3" height="7" fill="#6ba583"/>
<rect x="1256" y="287" width="1" height="40" fill="#737375"/>
<rect x="1254" y="295" width="5" height="11" fill="#225437"/>
<rect x="1255" y="296" width="3" height="9" fill="#6ba583"/>
<rect x="1263" y="280" width="1" height="34" fill="#737375"/>
<rect x="1261" y="295" width="5" height="15" fill="#5b1a13"/>
<rect x="1262" y="296" width="3" height="13" fill="#d75442"/>
<rect x="1269" y="305" width="1" height="17" fill="#737375"/>
<rect x="1267" y="315" width="5" height="2" fill="#225437"/>
<rect x="1276" y="307" width="1" height="27" fill="#737375"/>
<rect x="1274" y="314" width="5" height="7" fill="#5b1a13"/>
<rect x="1275" y="315" width="3" height="5" fill="#d75442"/>
<rect x="1283" y="311" width="1" height="51" fill="#737375"/>
<rect x="1281" y="314" width="5" height="36" fill="#5b1a13"/>
<rect x="1282" y="315" width="3" height="34" fill="#d75442"/>
<rect x="1289" y="349" width="1" height="41" fill="#737375"/>
<rect x="1287" y="355" width="5" height="35" fill="#5b1a13"/>
<rect x="1288" y="356" width="3" height="33" fill="#d75442"/>
<rect x="1296" y="383" width="1" height="42" fill="#737375"/>
<rect x="1294" y="393" width="5" height="2" fill="#225437"/>
<rect x="1303" y="380" width="1" height="23" fill="#737375"/>
<rect x="1301" y="388" width="5" height="11" fill="#225437"/>
<rect x="1302" y="389" width="3" height="9" fill="#6ba583"/>
<rect x="1310" y="363" width="1" height="33" fill="#737375"/>
<rect x="1308" y="381" width="5" height="11" fill="#225437"/>
<rect x="1309" y="382" width="3" height="9" fill="#6ba583"/>
<rect x="1316" y="374" width="1" height="27" fill="#737375"/>
<rect x="1314" y="382" width="5" height="10" fill="#5b1a13"/>
<rect x="1315" y="383" width="3" height="8" fill="#d75442"/>
<rect x="1323" y="347" width="1" height="48" fill="#737375"/>
<rect x="1321" y="349" width="5" height="45" fill="#225437"/>
<rect x="1322" y="350" width="3" height="43" fill="#6ba583"/>
<rect x="1330" y="340" width="1" height="15" fill="#737375"/>
<rect x="1328" y="345" width="5" height="4" fill="#225437"/>
<rect x="1329" y="346" width="3" height="2" fill="#6ba583"/>
<rect x="1337" y="329" width="1" height="24" fill="#737375"/>
<rect x="1335" y="334" width="5" height="10" fill="#225437"/>
<rect x="1336" y="335" width="3" height="8" fill="#6ba583"/>
<rect x="1343" y="299" width="1" height="36" fill="#737375"/>
<rect x="1341" y="316" width="5" height="19" fill="#225437"/>
<rect x="1342" y="317" width="3" height="17" fill="#6ba583"/>
<rect x="1350" y="292" width="1" height="57" fill="#737375"/>
<rect x="1348" y="314" width="5" height="35" fill="#5b1a13"/>
<rect x="1349" y="315" width="3" height="33" fill="#d75442"/>
<rect x="1357" y="297" width="1" height="67" fill="#737375"/>
<rect x="1355" y="301" width="5" height="57" fill="#225437"/>
<rect x="1356" y="302" width="3" height="55" fill="#6ba583"/>
<rect x="1363" y="264" width="1" height="43" fill="#737375"/>
<rect x="1361" y="270" width="5" height="34" fill="#225437"/>
<rect x="1362" y="271" width="3" height="32" fill="#6ba583"/>
<rect x="1370" y="266" width="1" height="25" fill="#737375"/>
<rect x="1368" y="270" width="5" height="17" fill="#5b1a13"/>
<rect x="1369" y="271" width="3" height="15" fill="#d75442"/>
<rect x="1377" y="278" width="1" height="23" fill="#737375"/>
<rect x="1375" y="279" width="5" height="8" fill="#225437"/>
<rect x="1376" y="280" width="3" height="6" fill="#6ba583"/>
<rect x="1384" y="268" width="1" height="18" fill="#737375"/>
<rect x="1382" y="279" width="5" height="1" fill="#5b1a13"/>
<rect x="1390" y="256" width="1" height="22" fill="#737375"/>
<rect x="1388" y="259" width="5" height="12" fill="#225437"/>
<rect x="1389" y="260" width="3" height="10" fill="#6ba583"/>
</g>
<line x1="4" y1="259.5" x2="1461" y2="259.5" stroke="#6ba583" stroke-width="1" stroke-dasharray="1 2" shape-rendering="crispEdges"/>
<g shape-rendering="crispEdges">
<rect x="4" y="689" width="1517" height="1" fill="#e0e3eb"/>
<rect x="4" y="728" width="1517" height="1" fill="#e0e3eb"/>
<rect x="4" y="746" width="1457" height="28" fill="#2196f3" fill-opacity="0.1"/>
<rect x="4" y="760" width="1457" height="1" fill="#e0e0e0"/>
</g>
<g shape-rendering="crispEdges" stroke="#787b86" stroke-width="1" stroke-dasharray="5 6">
<line x1="4" y1="746.5" x2="1461" y2="746.5"/>
<line x1="4" y1="760.5" x2="1461" y2="760.5" stroke-opacity="0.5"/>
<line x1="4" y1="774.5" x2="1461" y2="774.5"/>
</g>
<path d="M4.2 706.7 L15.0 705.5 L23.7 699.2 L31.2 701.0 L39.9 705.0 L49.9 706.7 L64.8 707.5 L82.3 709.2 L99.8 709.9 L112.2 710.4 L124.7 709.9 L132.2 706.0 L139.7 705.5 L145.9 708.0 L152.1 703.5 L159.6 700.5 L169.6 703.5 L179.6 705.5 L187.0 705.0 L193.3 701.7 L202.0 703.5 L212.0 705.5 L220.7 705.5 L225.7 699.2 L231.9 698.5 L239.4 701.0 L246.9 701.2 L254.4 700.0 L259.4 701.7 L266.8 699.2 L271.8 701.7 L279.3 700.5 L286.8 704.2 L293.0 701.7 L301.7 703.0 L309.2 702.5 L316.7 703.5 L326.7 704.2 L334.2 706.0 L341.6 708.4 L351.6 706.7 L360.3 705.0 L367.8 703.7 L373.7 707.5 L381.2 703.5 L394.9 701.0 L401.2 697.5 L407.4 701.0 L414.9 699.2 L427.4 704.2 L434.8 706.0 L442.3 705.5 L454.8 707.5 L462.3 704.7 L474.7 709.9 L481.0 711.2 L488.5 709.2 L502.2 711.2 L508.4 710.9 L515.9 712.4 L529.6 709.7 L535.8 709.2 L543.3 705.5 L549.6 706.2 L557.0 705.0 L563.3 705.5 L569.5 701.7 L582.0 703.0 L589.5 704.5 L595.7 699.7 L609.4 702.5 L616.9 703.7 L629.4 702.5 L636.8 705.5 L643.1 703.0 L649.3 699.7 L663.0 703.7 L669.3 705.5 L676.7 705.0 L684.2 701.2 L691.7 702.5 L696.7 700.5 L704.2 694.7 L710.4 696.7 L717.9 698.5 L724.1 700.5 L731.6 701.2 L743.7 706.7 L750.7 695.5 L764.9 698.0 L771.2 697.2 L784.9 699.5 L791.9 698.7 L798.6 702.0 L805.3 703.5 L812.3 706.0 L818.6 705.0 L825.3 705.5 L832.3 703.0 L844.7 703.0 L852.2 703.7 L859.2 706.0 L865.4 703.0 L872.2 700.5 L879.2 703.7 L885.9 703.7 L892.1 698.0 L899.6 692.5 L905.8 691.7 L913.3 696.2 L919.6 697.5 L925.8 699.5 L933.3 698.5 L939.5 700.5 L945.7 703.7 L953.2 703.0 L960.0 702.5 L966.4 705.0 L973.2 702.2 L979.9 701.7 L986.9 704.5 L993.1 698.5 L1006.8 700.5 L1013.8 703.7 L1020.5 703.7 L1026.8 704.7 L1034.3 707.5 L1040.5 705.0 L1046.7 706.2 L1053.7 707.5 L1060.4 709.9 L1067.2 713.4 L1074.2 710.9 L1081.1 708.7 L1094.1 708.4 L1101.6 709.9 L1107.5 712.4 L1120.0 708.4 L1127.4 702.5 L1134.9 702.5 L1141.1 704.2 L1147.4 707.2 L1153.6 708.4 L1161.1 710.9 L1167.8 712.9 L1174.8 706.0 L1181.0 708.0 L1194.8 709.4 L1201.7 712.2 L1208.5 711.7 L1215.2 714.2 L1222.2 711.7 L1228.9 714.2 L1235.9 716.4 L1242.6 718.4 L1249.6 718.9 L1257.1 718.7 L1263.3 719.2 L1269.6 721.7 L1275.8 722.4 L1283.3 720.4 L1289.5 719.7 L1295.8 719.4 L1303.2 721.2 L1309.5 721.4 L1316.5 722.4 L1323.2 720.9 L1329.4 722.9 L1336.9 724.9 L1343.1 724.7 L1350.1 721.7 L1356.9 717.9 L1363.1 717.2 L1370.6 718.9 L1376.8 720.9 L1383.5 722.9 L1389.8 724.4" fill="none" stroke="#b71c1c" stroke-width="1.1" stroke-linejoin="round"/>
<path d="M4.2 760.8 L16.2 772.8 L27.4 778.3 L51.1 778.3 L58.6 775.8 L65.3 767.3 L72.3 767.3 L77.8 769.3 L84.8 763.3 L92.3 757.3 L104.7 759.8 L112.2 757.3 L118.5 751.1 L124.7 751.1 L130.9 766.6 L138.4 776.5 L145.9 785.3 L152.1 797.2 L159.1 799.7 L165.8 791.5 L172.1 784.0 L178.3 780.3 L185.8 774.0 L199.5 766.6 L212.0 762.3 L219.5 764.1 L233.2 757.3 L239.4 755.8 L251.9 746.6 L259.4 744.1 L266.8 748.3 L273.1 748.6 L279.3 745.9 L286.8 747.1 L293.8 749.1 L306.7 742.4 L313.0 743.4 L320.4 741.6 L334.2 742.4 L340.4 745.4 L349.1 745.9 L356.6 744.9 L367.8 740.4 L373.7 742.9 L380.0 748.3 L388.0 757.3 L394.9 754.6 L401.2 745.9 L407.4 743.4 L414.9 735.4 L427.9 735.4 L435.3 740.4 L442.3 747.9 L448.6 748.6 L454.8 747.9 L461.8 743.4 L469.3 743.4 L476.0 747.1 L482.2 749.1 L489.2 748.3 L495.4 744.4 L502.2 743.9 L508.4 741.4 L515.9 738.9 L522.1 732.9 L529.6 740.4 L535.8 746.6 L543.3 738.6 L549.1 736.9 L555.8 742.9 L563.3 749.1 L569.5 752.3 L575.7 754.6 L583.2 760.3 L590.0 763.3 L596.4 755.3 L603.2 749.8 L609.9 755.3 L616.9 758.3 L623.1 755.3 L629.4 759.6 L636.8 763.6 L643.1 779.0 L649.8 772.8 L656.8 755.8 L664.3 747.4 L670.5 753.3 L676.7 762.1 L683.7 752.3 L690.9 739.1 L697.2 767.8 L704.2 790.2 L711.1 790.7 L717.9 778.3 L724.1 775.3 L731.6 769.8 L738.6 766.3 L743.7 768.3 L750.7 789.0 L758.0 789.0 L764.9 783.5 L771.2 783.0 L777.4 784.3 L784.9 780.8 L791.9 774.8 L798.6 774.3 L805.3 774.3 L812.3 774.8 L818.6 777.0 L825.3 776.8 L832.3 771.0 L839.3 769.3 L846.0 765.8 L852.2 762.3 L859.2 758.8 L865.9 763.1 L872.2 757.1 L879.2 750.3 L885.9 756.6 L892.1 770.3 L899.6 794.2 L905.8 785.3 L913.3 778.3 L919.1 779.3 L925.8 775.3 L933.3 778.5 L939.5 779.5 L945.7 778.5 L953.2 780.5 L960.0 778.3 L966.4 774.0 L973.2 767.3 L979.9 761.8 L986.9 761.3 L993.1 759.3 L999.4 760.6 L1006.8 757.3 L1013.8 755.3 L1020.5 753.6 L1026.8 753.3 L1034.3 750.8 L1040.5 737.9 L1047.2 735.1 L1053.7 738.4 L1060.4 741.1 L1067.2 744.4 L1074.2 743.4 L1081.1 749.3 L1087.9 747.1 L1094.1 748.1 L1100.8 747.6 L1107.5 750.8 L1121.2 754.8 L1127.9 747.9 L1134.9 732.9 L1141.1 735.4 L1147.4 741.6 L1154.4 740.4 L1161.1 744.6 L1167.8 747.4 L1174.8 740.4 L1181.8 738.4 L1187.8 747.9 L1194.8 749.8 L1201.7 753.6 L1208.5 757.3 L1215.2 759.6 L1222.2 765.8 L1228.9 763.3 L1235.9 766.6 L1242.6 769.5 L1249.6 764.3 L1256.6 766.3 L1263.3 766.6 L1269.6 773.8 L1275.8 775.8 L1283.3 785.3 L1289.5 795.2 L1296.5 795.7 L1303.2 787.8 L1310.0 779.5 L1316.5 778.5 L1323.2 769.8 L1329.9 764.1 L1336.9 760.3 L1343.9 754.1 L1350.1 756.3 L1356.9 753.3 L1363.1 741.9 L1370.6 743.4 L1376.8 746.1 L1383.5 744.6 L1389.8 742.1" fill="none" stroke="#2962ff" stroke-width="1.1" stroke-linejoin="round"/>
<g shape-rendering="crispEdges" fill="#383838">
<rect x="1461" y="4" width="1" height="829"/>
<rect x="4" y="805" width="1517" height="1"/>
</g>
<text x="1469.5" y="673.8" font-size="12" fill="#555" textLength="35" lengthAdjust="spacingAndGlyphs">99.000</text>
<text x="1469.5" y="637.2" font-size="12" fill="#555" textLength="35" lengthAdjust="spacingAndGlyphs">99.500</text>
<text x="1469.5" y="600.6" font-size="12" fill="#555" textLength="41" lengthAdjust="spacingAndGlyphs">100.000</text>
<text x="1469.5" y="564.1" font-size="12" fill="#555" textLength="41" lengthAdjust="spacingAndGlyphs">100.500</text>
<text x="1469.5" y="527.5" font-size="12" fill="#555" textLength="41" lengthAdjust="spacingAndGlyphs">101.000</text>
<text x="1469.5" y="490.9" font-size="12" fill="#555" textLength="41" lengthAdjust="spacingAndGlyphs">101.500</text>
<text x="1469.5" y="454.3" font-size="12" fill="#555" textLength="41" lengthAdjust="spacingAndGlyphs">102.000</text>
<text x="1469.5" y="417.7" font-size="12" fill="#555" textLength="41" lengthAdjust="spacingAndGlyphs">102.500</text>
<text x="1469.5" y="381.1" font-size="12" fill="#555" textLength="41" lengthAdjust="spacingAndGlyphs">103.000</text>
<text x="1469.5" y="344.5" font-size="12" fill="#555" textLength="41" lengthAdjust="spacingAndGlyphs">103.500</text>
<text x="1469.5" y="307.9" font-size="12" fill="#555" textLength="41" lengthAdjust="spacingAndGlyphs">104.000</text>
<text x="1469.5" y="271.3" font-size="12" fill="#555" textLength="41" lengthAdjust="spacingAndGlyphs">104.500</text>
<text x="1469.5" y="234.7" font-size="12" fill="#555" textLength="41" lengthAdjust="spacingAndGlyphs">105.000</text>
<text x="1469.5" y="198.2" font-size="12" fill="#555" textLength="41" lengthAdjust="spacingAndGlyphs">105.500</text>
<text x="1469.5" y="161.6" font-size="12" fill="#555" textLength="41" lengthAdjust="spacingAndGlyphs">106.000</text>
<text x="1469.5" y="125.0" font-size="12" fill="#555" textLength="41" lengthAdjust="spacingAndGlyphs">106.500</text>
<text x="1469.5" y="88.4" font-size="12" fill="#555" textLength="41" lengthAdjust="spacingAndGlyphs">107.000</text>
<text x="1469.5" y="51.8" font-size="12" fill="#555" textLength="41" lengthAdjust="spacingAndGlyphs">107.500</text>
<text x="1469.5" y="723.5" font-size="12" fill="#555" textLength="28.5" lengthAdjust="spacingAndGlyphs">0.500</text>
<text x="1469.5" y="765" font-size="12" fill="#555" textLength="22.7" lengthAdjust="spacingAndGlyphs">0.00</text>
<text x="1469.5" y="799" font-size="12" fill="#555" textLength="41" lengthAdjust="spacingAndGlyphs">-250.00</text>
<path d="M1462 50.0h53a2 2 0 0 1 2 2v13a2 2 0 0 1-2 2h-53z" fill="#000"/>
<text x="1469.5" y="62.7" font-size="12" fill="#fff" font-weight="bold" textLength="41.5" lengthAdjust="spacingAndGlyphs">107.362</text>
<path d="M1462 88.0h53a2 2 0 0 1 2 2v13a2 2 0 0 1-2 2h-53z" fill="#000"/>
<text x="1469.5" y="100.7" font-size="12" fill="#fff" font-weight="bold" textLength="41.5" lengthAdjust="spacingAndGlyphs">106.837</text>
<path d="M1462 180.0h53a2 2 0 0 1 2 2v13a2 2 0 0 1-2 2h-53z" fill="#000"/>
<text x="1469.5" y="192.7" font-size="12" fill="#fff" font-weight="bold" textLength="41.5" lengthAdjust="spacingAndGlyphs">105.484</text>
<path d="M1462 197.0h53a2 2 0 0 1 2 2v13a2 2 0 0 1-2 2h-53z" fill="#000"/>
<text x="1469.5" y="209.7" font-size="12" fill="#fff" font-weight="bold" textLength="41.5" lengthAdjust="spacingAndGlyphs">105.349</text>
<path d="M1462 248.0h53a2 2 0 0 1 2 2v13a2 2 0 0 1-2 2h-53z" fill="#000"/>
<text x="1469.5" y="260.7" font-size="12" fill="#fff" font-weight="bold" textLength="41.5" lengthAdjust="spacingAndGlyphs">104.658</text>
<path d="M1462 625.0h46a2 2 0 0 1 2 2v13a2 2 0 0 1-2 2h-46z" fill="#000"/>
<text x="1469.5" y="637.7" font-size="12" fill="#fff" font-weight="bold" textLength="35.5" lengthAdjust="spacingAndGlyphs">99.495</text>
<rect x="1465.5" y="8.5" width="51" height="24.5" rx="4" fill="#fff" stroke="#e0e3eb"/>
<text x="1469.5" y="25" font-size="12" fill="#131722" textLength="20" lengthAdjust="spacingAndGlyphs">USD</text>
<path d="M1506.8 20l2.4 2.4 2.4-2.4" fill="none" stroke="#131722" stroke-width="1.2"/>
<text x="105.5" y="823" font-size="12" fill="#555" text-anchor="middle">Jul</text>
<text x="247.5" y="823" font-size="12" fill="#555" text-anchor="middle">Aug</text>
<text x="401.5" y="823" font-size="12" fill="#555" text-anchor="middle">Sep</text>
<text x="543.5" y="823" font-size="12" fill="#555" text-anchor="middle">Oct</text>
<text x="691.5" y="823" font-size="12" fill="#555" text-anchor="middle">Nov</text>
<text x="839.5" y="823" font-size="12" fill="#555" text-anchor="middle">Dec</text>
<text x="973.5" y="823" font-size="12" fill="#444" font-weight="bold" text-anchor="middle" textLength="27" lengthAdjust="spacingAndGlyphs">2024</text>
<text x="1121.5" y="823" font-size="12" fill="#555" text-anchor="middle">Feb</text>
<text x="1263.5" y="823" font-size="12" fill="#555" text-anchor="middle">Mar</text>
<text x="1404.5" y="823" font-size="12" fill="#555" text-anchor="middle">Apr</text>
<g fill="none" stroke="#131722" stroke-width="1.1"><path d="M1484.2 819.4l3.6-6.3h7.2l3.6 6.3-3.6 6.3h-7.2z"/><circle cx="1491.4" cy="819.4" r="2.1"/></g>
<circle cx="22" cy="20" r="9" fill="#0e8a6e"/>
<text x="22" y="25.2" font-size="14.5" fill="#fff" font-weight="bold" text-anchor="middle">S</text>
<rect x="21.5" y="16.5" width="1" height="7.5" fill="#0e8a6e" fill-opacity="0.45"/>
<text x="35.3" y="25.7" font-size="15" fill="#505050" textLength="108" lengthAdjust="spacingAndGlyphs">US Dollar Index</text>
<text x="147.6" y="25.7" font-size="15" fill="#505050" font-weight="bold">·</text>
<text x="156.7" y="25.7" font-size="15" fill="#505050" textLength="16" lengthAdjust="spacingAndGlyphs">1D</text>
<text x="178.6" y="25.7" font-size="15" fill="#505050" font-weight="bold">·</text>
<text x="187.2" y="25.7" font-size="15" fill="#505050" textLength="97.4" lengthAdjust="spacingAndGlyphs">PEPPERSTONE</text>
<circle cx="309" cy="20.3" r="9" fill="#089981" fill-opacity="0.15"/><circle cx="309" cy="20.3" r="4.3" fill="#089981"/>
<text x="334.3" y="24.7" font-size="12.5" fill="#555" textLength="9" lengthAdjust="spacingAndGlyphs">O</text>
<text x="344.8" y="24.7" font-size="12.5" fill="#225437" textLength="44" lengthAdjust="spacingAndGlyphs">104.458</text>
<text x="396.3" y="24.7" font-size="12.5" fill="#555" textLength="8" lengthAdjust="spacingAndGlyphs">H</text>
<text x="405.5" y="24.7" font-size="12.5" fill="#225437" textLength="44.5" lengthAdjust="spacingAndGlyphs">104.648</text>
<text x="458" y="24.7" font-size="12.5" fill="#555" textLength="5.5" lengthAdjust="spacingAndGlyphs">L</text>
<text x="465.8" y="24.7" font-size="12.5" fill="#225437" textLength="43.5" lengthAdjust="spacingAndGlyphs">104.358</text>
<text x="516.2" y="24.7" font-size="12.5" fill="#555" textLength="8" lengthAdjust="spacingAndGlyphs">C</text>
<text x="525.4" y="24.7" font-size="12.5" fill="#225437" textLength="44.5" lengthAdjust="spacingAndGlyphs">104.618</text>
<text x="577.4" y="24.7" font-size="12.5" fill="#225437" textLength="38" lengthAdjust="spacingAndGlyphs">+0.287</text>
<text x="620.4" y="24.7" font-size="12.5" fill="#225437" textLength="47.5" lengthAdjust="spacingAndGlyphs">(+0.28%)</text>
<rect x="8" y="36" width="175" height="25" fill="#fff" fill-opacity="0.5"/>
<rect x="12.5" y="36.5" width="61" height="23" rx="4" fill="#fff" stroke="#f23645"/>
<text x="43" y="53" font-size="12.5" fill="#f23645" text-anchor="middle" textLength="45" lengthAdjust="spacingAndGlyphs">104.618</text>
<text x="81.7" y="52.3" font-size="11.5" fill="#131722" textLength="26.5" lengthAdjust="spacingAndGlyphs">0.050</text>
<text x="110" y="53" font-size="11.5" fill="#b2b5be" textLength="5.5" lengthAdjust="spacingAndGlyphs">0</text>
<rect x="117.5" y="36.5" width="61" height="23" rx="4" fill="#fff" stroke="#2962ff"/>
<text x="148" y="53" font-size="12.5" fill="#2962ff" text-anchor="middle" textLength="45" lengthAdjust="spacingAndGlyphs">104.668</text>
<rect x="8" y="62" width="562" height="25" fill="#fff" fill-opacity="0.55"/>
<text x="12.9" y="80.5" font-size="12" fill="#555" textLength="383" lengthAdjust="spacingAndGlyphs">MA Ribbon SMA close 20 SMA close 50 SMA close 100 SMA close 200</text>
<text x="405" y="80.5" font-size="12" fill="#f23645" textLength="45" lengthAdjust="spacingAndGlyphs">103.643</text>
<text x="456" y="80.5" font-size="12" fill="#2962ff" textLength="45" lengthAdjust="spacingAndGlyphs">103.811</text>
<text x="508.5" y="80.5" font-size="12" fill="#131722">ø</text>
<text x="522" y="80.5" font-size="12" fill="#131722" textLength="45" lengthAdjust="spacingAndGlyphs">103.764</text>
<rect x="13.5" y="90.5" width="28" height="20" rx="3" fill="#fff" fill-opacity="0.8" stroke="#d1d4dc"/>
<path d="M23.7 102.6l3.8-3.8 3.8 3.8" fill="none" stroke="#131722" stroke-width="1.3"/>
<rect x="8" y="697" width="118" height="19" fill="#fff" fill-opacity="0.55"/>
<text x="12.9" y="711" font-size="12" fill="#555" textLength="67" lengthAdjust="spacingAndGlyphs">ATR 14 RMA</text>
<text x="88.5" y="711" font-size="12" fill="#b71c1c" textLength="31.5" lengthAdjust="spacingAndGlyphs">0.466</text>
<rect x="8" y="741" width="160" height="17" fill="#fff" fill-opacity="0.55"/>
<text x="12.9" y="750.5" font-size="12" fill="#555" textLength="101" lengthAdjust="spacingAndGlyphs">CCI 20 hlc3 SMA 5</text>
<text x="123.5" y="750.5" font-size="12" fill="#2962ff" textLength="38" lengthAdjust="spacingAndGlyphs">127.49</text>
<g fill="#131722"><path d="M16 776h14v15h-7v-8h-7z"/><circle cx="35" cy="779.5" r="3.3"/><path d="M39.5 776h7l-6.5 15h-7z"/></g>
<g font-family='"Liberation Sans","Noto Sans CJK SC",sans-serif' font-style="italic" font-weight="bold">
<mask id="wmk" maskUnits="userSpaceOnUse" x="1240" y="720" width="300" height="100"><rect x="1240" y="720" width="300" height="100" fill="#fff"/><text x="1279" y="792" font-size="60" fill="#000" stroke="#000" stroke-width="3.5" stroke-linejoin="round" textLength="240" lengthAdjust="spacingAndGlyphs">拓与财经</text></mask>
<text x="1281" y="794" font-size="60" fill="#666" stroke="#666" stroke-width="3.5" stroke-linejoin="round" opacity="0.55" mask="url(#wmk)" textLength="240" lengthAdjust="spacingAndGlyphs">拓与财经</text>
<text x="1279" y="792" font-size="60" fill="#fff" stroke="#fff" stroke-width="3.5" stroke-linejoin="round" opacity="0.88" textLength="240" lengthAdjust="spacingAndGlyphs">拓与财经</text>
<text x="1291.5" y="831" font-size="31" fill="#777" stroke="#777" opacity="0.2" stroke-width="2" textLength="224" lengthAdjust="spacing">zzrt01.cn</text>
<text x="1290" y="829.8" font-size="31" fill="#6d90ec" stroke="#6d90ec" opacity="0.8" stroke-width="2" stroke-linejoin="round" textLength="224" lengthAdjust="spacing">zzrt01.cn</text>
</g>
</svg>
</body></html>
